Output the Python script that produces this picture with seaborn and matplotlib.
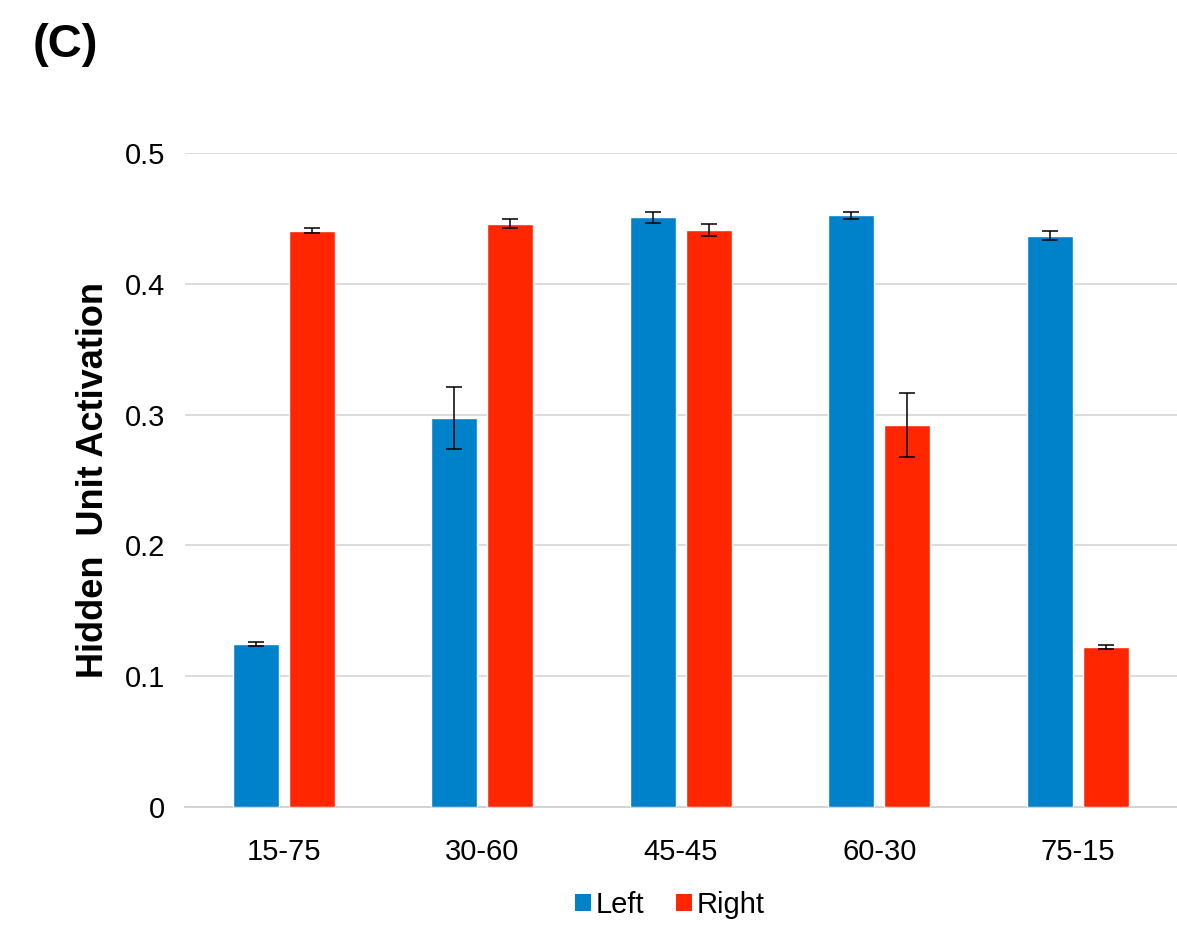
import matplotlib
matplotlib.use("Agg")
import matplotlib.pyplot as plt
from matplotlib.patches import Patch
import numpy as np
import pandas as pd
import seaborn as sns

categories = ["15-75", "30-60", "45-45", "60-30", "75-15"]
left_vals = [0.1246, 0.2973, 0.4507, 0.4525, 0.4369]
right_vals = [0.4407, 0.4460, 0.4411, 0.2920, 0.1221]
left_err = [0.0015, 0.0236, 0.0044, 0.0027, 0.0034]
right_err = [0.0021, 0.0032, 0.0046, 0.0247, 0.0015]
series = ["Left", "Right"]
colors = {"Left": "#0082CB", "Right": "#FF2600"}

df = pd.DataFrame({
    "cond": categories * 2,
    "side": ["Left"] * 5 + ["Right"] * 5,
    "val": left_vals + right_vals,
    "err": left_err + right_err,
})

sns.set_theme(style="white")
plt.rcParams["font.family"] = ["Liberation Sans", "DejaVu Sans"]
plt.rcParams["text.color"] = "black"

fig = plt.figure(figsize=(11.77, 9.27), dpi=100)
ax = fig.add_axes([0.157, 0.1294, 0.843, 0.7056])

sns.barplot(data=df, x="cond", y="val", hue="side", order=categories,
            hue_order=series, palette=colors, width=0.565, gap=0.18,
            errorbar=None, saturation=1, legend=False, ax=ax, zorder=3)

# error bars at bar centres
for container, s in zip(ax.containers, series):
    sub = df[df["side"] == s].set_index("cond").loc[categories]
    xs = [p.get_x() + p.get_width() / 2 for p in container.patches]
    ax.errorbar(xs, sub["val"], yerr=sub["err"], fmt="none", ecolor="black",
                elinewidth=1.1, capsize=5.5, capthick=1.1, zorder=4)

ax.set_xlim(-0.5, 4.5)
ax.set_ylim(0, 0.5)
ax.set_yticks([0, 0.1, 0.2, 0.3, 0.4, 0.5])
ax.set_yticklabels(["0", "0.1", "0.2", "0.3", "0.4", "0.5"])
ax.yaxis.grid(True, color="#d9d9d9", linewidth=1.3, zorder=0)
ax.set_axisbelow(True)
for sp in ["top", "right", "left"]:
    ax.spines[sp].set_visible(False)
ax.spines["bottom"].set_color("#d0d0d0")
ax.spines["bottom"].set_linewidth(1.3)
ax.tick_params(axis="both", length=0, labelsize=21, colors="black")
ax.tick_params(axis="y", pad=14)
ax.tick_params(axis="x", pad=22)
ax.set_xlabel("")
ax.set_ylabel("Hidden  Unit Activation", fontsize=26, fontweight="bold",
              labelpad=10, color="black")

handles = [Patch(facecolor=colors[s], edgecolor="none") for s in series]
fig.legend(handles, series, loc="center", bbox_to_anchor=(670 / 1177, 1 - 905 / 927),
           ncol=2, frameon=False, fontsize=21, handlelength=0.55, handleheight=0.55,
           handletextpad=0.15, columnspacing=1.1)

fig.text(33 / 1177, 1 - 45 / 927, "(C)", fontsize=34, fontweight="bold",
         va="center", ha="left", color="black")

fig.savefig("out.png", dpi=100)
